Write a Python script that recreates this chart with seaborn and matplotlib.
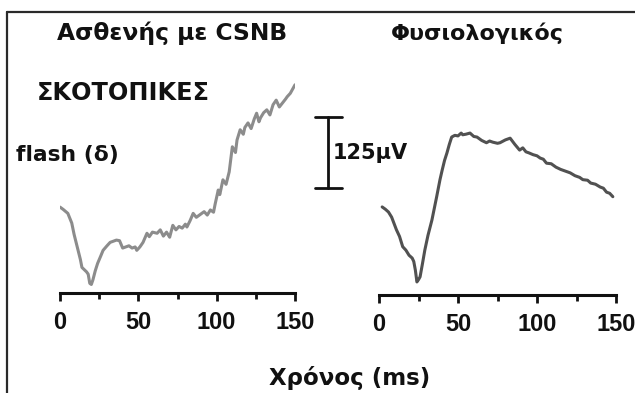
import numpy as np
import pandas as pd
import matplotlib.pyplot as plt
import seaborn as sns
from matplotlib.lines import Line2D

# ERG traces (time in ms, amplitude in µV, 0 = start of trace)
csnb_t = [0, 2, 5, 7.5, 9, 11, 13, 14, 15.5, 17, 18, 19, 20, 21, 22.5, 24, 26, 27.5, 30, 32,
          34, 36, 38, 40, 42, 44, 46, 48, 49, 51, 53, 55.5, 57, 59, 62, 64, 66, 68, 70, 72,
          74, 76, 78, 80, 81, 83, 85, 87, 90, 92, 94, 96, 98, 99, 101, 102, 104, 106, 107,
          108, 110, 112, 113, 115, 117, 118, 120, 122, 124, 125.5, 127, 128, 130, 132,
          134, 136, 138, 140, 142, 144, 145, 147, 148, 150]
csnb_v = [0, -4, -11, -28, -48, -70, -92, -106, -110, -114, -118, -134, -136, -128, -112,
          -99, -86, -76, -68, -62, -60, -58, -59, -72, -70, -68, -72, -70, -76, -70, -62,
          -46, -52, -44, -46, -40, -51, -44, -53, -32, -40, -34, -37, -30, -35, -24, -11,
          -18, -12, -8, -14, -5, -9, 5, 30, 22, 48, 40, 51, 62, 106, 96, 118, 136, 128, 140,
          148, 138, 155, 165, 150, 157, 166, 171, 162, 180, 188, 176, 183, 190, 194, 200,
          205, 215]

normal_t = [2, 4, 6, 8, 11, 13, 15, 17, 19, 21, 22, 23, 24, 25, 26, 27.5, 29, 31, 33.5,
            36.5, 38.6, 40, 41.5, 43, 44.5, 46, 48, 50, 52, 53, 55, 57.6, 60, 62, 65, 68,
            70, 72, 75, 76.6, 80, 83, 86, 89, 91, 93, 95, 97.5, 100, 102, 104, 106, 109,
            112, 115, 119, 121, 124, 127, 129, 132, 134, 137, 140, 142, 144, 146, 148]
normal_v = [0, -4, -9, -18, -40, -52, -70, -76, -85, -90, -96, -111, -132, -128, -123, -100,
            -76, -50, -23, 18, 48, 65, 82, 95, 110, 123, 126, 125, 130, 127, 128, 130, 124,
            123, 117, 113, 116, 114, 112, 113, 118, 121, 110, 100, 104, 97, 95, 92, 90, 86,
            84, 77, 76, 70, 66, 62, 60, 55, 52, 48, 47, 42, 40, 35, 33, 26, 24, 18]

panel_titles = ['Ασθενής με CSNB', 'Φυσιολογικός']
x_ticks = [0, 50, 100, 150]
x_minor = [25, 75, 125]
scale_uv = 125

sns.set_theme(style='white')
plt.rcParams['font.family'] = ['Liberation Sans', 'DejaVu Sans']
plt.rcParams['font.weight'] = 'bold'
label_font = ['DejaVu Sans']
ink = '#111111'

fig = plt.figure(figsize=(6.35, 3.93), dpi=100)

# figure frame (top and left edges of the cropped box)
fig.add_artist(Line2D([6.5 / 635, 6.5 / 635], [0, 1 - 11.5 / 393], transform=fig.transFigure,
                      color='#2a2a2a', lw=1.6))
fig.add_artist(Line2D([6.5 / 635, 1], [1 - 11.5 / 393, 1 - 11.5 / 393], transform=fig.transFigure,
                      color='#2a2a2a', lw=1.6))

ax1 = fig.add_axes([60 / 635, 100 / 393, 235 / 635, 223 / 393])
ax2 = fig.add_axes([379 / 635, 98 / 393, 237 / 635, 225 / 393])

df1 = pd.DataFrame({'t': csnb_t, 'v': csnb_v})
df2 = pd.DataFrame({'t': normal_t, 'v': normal_v})
sns.lineplot(data=df1, x='t', y='v', ax=ax1, color='#8c8c8c', lw=2.2)
sns.lineplot(data=df2, x='t', y='v', ax=ax2, color='#515151', lw=2.2)

ax1.set_ylim(-151, 241)
ax2.set_ylim(-155, 241)

for ax in (ax1, ax2):
    ax.set_xlim(0, 150)
    ax.set_facecolor('none')
    for s in ['left', 'right', 'top']:
        ax.spines[s].set_visible(False)
    ax.spines['bottom'].set_linewidth(2.2)
    ax.spines['bottom'].set_color(ink)
    ax.spines['bottom'].set_capstyle('projecting')
    ax.set_yticks([])
    ax.set_xticks(x_ticks)
    ax.set_xticks(x_minor, minor=True)
    ax.tick_params(axis='x', which='major', direction='out', length=6, width=2,
                   color=ink, labelcolor=ink, labelsize=17, pad=7, bottom=True)
    ax.tick_params(axis='x', which='minor', direction='out', length=4, width=2,
                   color=ink, bottom=True)
    for lab in ax.get_xticklabels():
        lab.set_fontweight('bold')
    ax.set_xlabel('')
    ax.set_ylabel('')

# 125 µV scale bar, in the data units of the traces
bar_base = 33
ax2.plot([-32, -32], [bar_base, bar_base + scale_uv], color=ink, lw=2, clip_on=False)
ax2.plot([-40.5, -23.5], [bar_base, bar_base], color=ink, lw=2, clip_on=False)
ax2.plot([-40.5, -23.5], [bar_base + scale_uv, bar_base + scale_uv], color=ink, lw=2,
         clip_on=False)
ax2.text(-29.5, bar_base + scale_uv / 2, f'{scale_uv}μV', fontsize=15, fontweight='bold',
         family=label_font, color=ink, ha='left', va='center', clip_on=False)

fig.text(172 / 635, 1 - 33 / 393, panel_titles[0], fontsize=16.8, fontweight='bold',
         family=label_font, color=ink, ha='center', va='center')
fig.text(477 / 635, 1 - 33 / 393, panel_titles[1], fontsize=16, fontweight='bold',
         family=label_font, color=ink, ha='center', va='center')
fig.text(37 / 635, 1 - 93 / 393, 'ΣΚΟΤΟΠΙΚΕΣ', fontsize=17.3, fontweight='bold',
         family=label_font, color=ink, ha='left', va='center')
fig.text(16 / 635, 1 - 155 / 393, 'flash (δ)', fontsize=15.7, fontweight='bold',
         family=label_font, color=ink, ha='left', va='center')
fig.text(350 / 635, 1 - 378 / 393, 'Χρόνος (ms)', fontsize=16.5, fontweight='bold',
         family=label_font, color=ink, ha='center', va='center')

fig.savefig('out.png', dpi=100)
